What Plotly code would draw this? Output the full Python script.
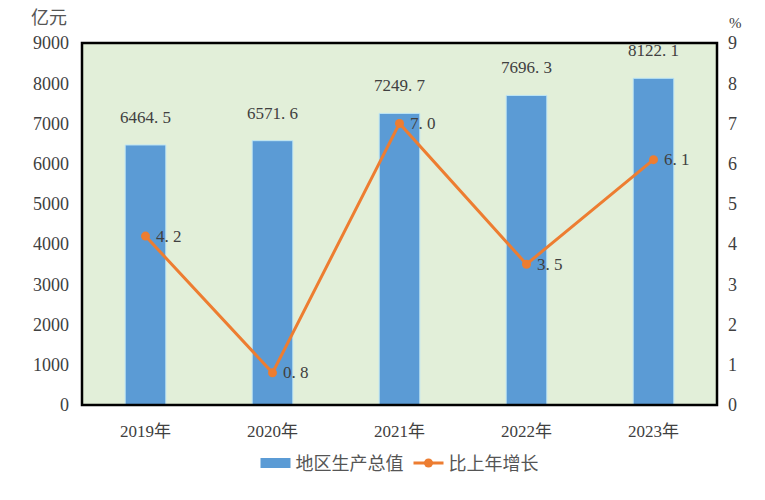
import plotly.graph_objects as go

years = ["2019年", "2020年", "2021年", "2022年", "2023年"]
gdp = [6464.5, 6571.6, 7249.7, 7696.3, 8122.1]
growth = [4.2, 0.8, 7.0, 3.5, 6.1]
gdp_labels = ["6464. 5", "6571. 6", "7249. 7", "7696. 3", "8122. 1"]
growth_labels = ["4. 2", "0. 8", "7. 0", "3. 5", "6. 1"]
left_ticks = list(range(0, 9001, 1000))
right_ticks = list(range(0, 10))

FONT = "Liberation Serif, DejaVu Serif, Noto Sans CJK SC, serif"
CJK = "Noto Sans CJK SC"
TXT = "#404040"
BLUE = "#5b9bd5"
ORANGE = "#ed7d31"

fig = go.Figure()
fig.add_trace(go.Bar(
    x=years, y=gdp, name="地区生产总值", showlegend=False,
    marker=dict(color=BLUE, line=dict(color="#bfe6f5", width=1)),
    width=0.32,
))
# legend entry for bars (wide rectangle like the reference)
fig.add_trace(go.Scatter(
    x=[None], y=[None], name="地区生产总值", mode="lines",
    line=dict(color=BLUE, width=14), showlegend=True,
))
fig.add_trace(go.Scatter(
    x=years, y=growth, name="比上年增长", yaxis="y2",
    mode="lines+markers",
    line=dict(color=ORANGE, width=3),
    marker=dict(color=ORANGE, size=9),
))

annotations = []
for yr, v, lab in zip(years, gdp, gdp_labels):
    annotations.append(dict(x=yr, y=v, xref="x", yref="y", text=lab, showarrow=False,
                            yanchor="bottom", yshift=16,
                            font=dict(family=FONT, size=17, color=TXT)))
for yr, v, lab in zip(years, growth, growth_labels):
    annotations.append(dict(x=yr, y=v, xref="x", yref="y2", text=lab, showarrow=False,
                            xanchor="left", xshift=8,
                            font=dict(family=FONT, size=17, color=TXT)))
annotations += [
    dict(text="亿元", xref="paper", yref="paper", x=-0.02, y=1.0, yshift=12,
         xanchor="right", yanchor="bottom", showarrow=False,
         font=dict(family=CJK, size=18, color="#555555")),
    dict(text="%", xref="paper", yref="paper", x=1.015, y=1.0, yshift=10,
         xanchor="left", yanchor="bottom", showarrow=False,
         font=dict(family=FONT, size=15, color=TXT)),
]

fig.update_layout(
    width=765, height=500,
    margin=dict(l=82, r=48, t=43, b=95, autoexpand=False),
    paper_bgcolor="white", plot_bgcolor="#e2efd9",
    font=dict(family=FONT, size=16, color=TXT),
    showlegend=True,
    legend=dict(orientation="h", x=0.5, xanchor="center", y=-0.11, yanchor="top",
                font=dict(family=CJK, size=18, color="#555555"),
                traceorder="normal", bgcolor="rgba(0,0,0,0)"),
    xaxis=dict(showgrid=False, showline=False, ticks="", ticklabelstandoff=14,
               tickfont=dict(family=FONT, size=17, color=TXT)),
    yaxis=dict(range=[0, 9000], tickvals=left_ticks, showgrid=False, zeroline=False,
               showline=False, ticks="", ticklabelstandoff=12,
               tickfont=dict(family=FONT, size=18, color=TXT)),
    yaxis2=dict(range=[0, 9], tickvals=right_ticks, overlaying="y", side="right",
                showgrid=False, zeroline=False, showline=False, ticks="",
                ticklabelstandoff=10,
                tickfont=dict(family=FONT, size=18, color=TXT)),
    shapes=[dict(type="rect", xref="paper", yref="paper", x0=0, y0=0, x1=1, y1=1,
                 line=dict(color="black", width=2.5))],
    annotations=annotations,
)

fig.write_html("out.html")
